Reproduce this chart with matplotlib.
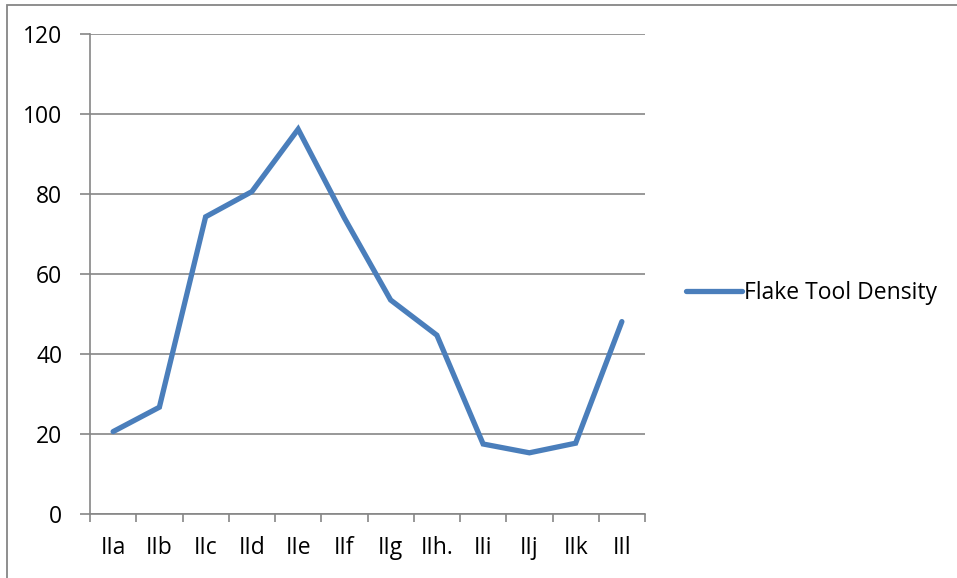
import numpy as np
import matplotlib.pyplot as plt
from matplotlib.patches import Rectangle

# layer labels and flake tool density per layer
layers = ["IIa", "IIb", "IIc", "IId", "IIe", "IIf", "IIg", "IIh.", "IIi", "IIj", "IIk", "IIl"]
density = [20.6, 26.7, 74.3, 80.6, 96.2, 74.0, 53.5, 44.7, 17.5, 15.3, 17.7, 48.1]

plt.rcParams['font.family'] = ['Open Sans', 'DejaVu Sans']

W, H = 957, 578
fs = 16.5
fig = plt.figure(figsize=(W / 100, H / 100), dpi=100)
ax = fig.add_axes([90 / W, (H - 514) / H, (645 - 90) / W, (514 - 34) / H])

grey = "#868686"
x = np.arange(len(layers))
line, = ax.plot(x, density, color="#4A7EBB", lw=3.8, solid_joinstyle="miter",
                solid_capstyle="round", label="Flake Tool Density")

ax.set_xlim(-0.5, len(layers) - 0.5)
ax.set_ylim(0, 120)
ax.set_yticks(range(0, 121, 20))
ax.yaxis.grid(True, color=grey, lw=1.2)
ax.set_axisbelow(True)

ax.set_xticks(x)
ax.set_xticklabels(layers)
ax.set_xticks(np.arange(-0.5, len(layers)), minor=True)
ax.tick_params(axis="x", which="major", length=0, pad=16, labelsize=fs)
ax.tick_params(axis="x", which="minor", length=6, width=1.2, color=grey, direction="out")
ax.tick_params(axis="y", length=7, width=1.2, color=grey, pad=13, labelsize=fs)

for s in ["top", "right"]:
    ax.spines[s].set_visible(False)
for s in ["left", "bottom"]:
    ax.spines[s].set_color(grey)
    ax.spines[s].set_linewidth(1.2)

fig.legend(handles=[line], loc="center left", bbox_to_anchor=(686 / W, (H - 293) / H),
           frameon=False, fontsize=fs, handlelength=2.45, handletextpad=0.08,
           borderaxespad=0, borderpad=0)

# chart border
fig.add_artist(Rectangle((7 / W, -0.05), 1.2, 1.05 - 5 / H, transform=fig.transFigure,
                         fill=False, edgecolor=grey, lw=1.3))

fig.savefig("out.png", dpi=100)
